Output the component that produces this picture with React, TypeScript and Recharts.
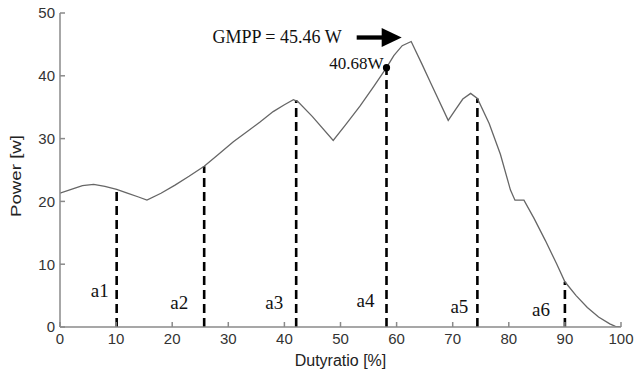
import { ComposedChart, Line, XAxis, YAxis, ReferenceLine, ReferenceDot } from "recharts";

// P-D curve
const duty = [
  0, 2, 4, 6, 8, 10.1, 12, 14, 15.5, 18, 20.5, 23, 25.7, 28, 30.9, 33.5, 35.6, 38, 40,
  41.6, 42.4, 45, 48.7, 51, 53.5, 56, 58.2, 59.5, 61, 62.6, 64.5, 66.1, 69.2, 70.5, 71.8,
  73.2, 74.4, 76.5, 78.5, 80.3, 81.1, 82.7, 84.5, 86.5, 88.5, 90, 92, 94, 96, 98, 99, 100,
];
const power = [
  21.3, 21.9, 22.5, 22.7, 22.4, 21.9, 21.3, 20.7, 20.2, 21.3, 22.6, 24.0, 25.6, 27.3, 29.5,
  31.2, 32.6, 34.3, 35.4, 36.2, 35.9, 33.5, 29.7, 32.3, 35.2, 38.4, 41.3, 43.2, 44.8, 45.46,
  41.9, 38.8, 32.9, 34.6, 36.3, 37.2, 36.4, 32.4, 27.5, 21.8, 20.2, 20.2, 17.3, 13.8, 10.1,
  7.2, 5.0, 3.1, 1.6, 0.5, 0.1, 0,
];

const markerNames = ["a1", "a2", "a3", "a4", "a5", "a6"];
const markerDuty = [10.1, 25.7, 42.1, 58.2, 74.4, 90];
const markerPower = [21.9, 25.6, 36.1, 41.3, 36.4, 7.2];

const xTicks = [0, 10, 20, 30, 40, 50, 60, 70, 80, 90, 100];
const yTicks = [0, 10, 20, 30, 40, 50];

const gmppDuty = 62.6;
const gmppPower = 45.46;
const gmppText = "GMPP = 45.46 W";
const pointDuty = 58.2;
const pointPower = 41.3;
const pointText = "40.68W";

// where the a-labels sit: gap left of the dashed line, baseline height above the axis (px)
const labelGap = [8, 16, 13, 12, 9, 15];
const labelLift = [30, 18, 18, 20, 14, 11];

const data = duty.map((d, i) => ({ d, p: power[i] }));

const SERIF = "'Liberation Serif', 'Times New Roman', serif";
const SANS = "'Liberation Sans', Arial, sans-serif";
const AXIS = "#8a8a8a";
const tickStyle = { fontSize: 15, fill: "#333", fontFamily: SANS };

const blank = () => "";

export default function App() {
  return (
    <div style={{ position: "absolute", left: 0, top: 0, background: "#fff" }}>
      <ComposedChart width={634} height={375} data={data} margin={{ top: 13, right: 13, bottom: 18, left: 0 }}>
        <XAxis
          xAxisId="b"
          dataKey="d"
          type="number"
          domain={[0, 100]}
          ticks={xTicks}
          allowDataOverflow
          height={30}
          tickSize={-5}
          tickMargin={11}
          stroke={AXIS}
          strokeWidth={1.5}
          tick={tickStyle}
          label={(props: any) => {
            const vb = props.viewBox;
            return (
              <text x={vb.x + vb.width / 2} y={vb.y + 39} textAnchor="middle" fontSize={16} fontFamily={SANS} fill="#222">
                Dutyratio [%]
              </text>
            );
          }}
        />
        <XAxis
          xAxisId="t"
          orientation="top"
          type="number"
          domain={[0, 100]}
          ticks={xTicks}
          allowDataOverflow
          height={0}
          tickSize={-5}
          tickFormatter={blank}
          stroke={AXIS}
          strokeWidth={1.5}
        />
        <YAxis
          yAxisId="l"
          type="number"
          domain={[0, 50]}
          ticks={yTicks}
          allowDataOverflow
          width={60}
          tickSize={-5}
          tickMargin={10}
          stroke={AXIS}
          strokeWidth={1.5}
          tick={tickStyle}
          label={(props: any) => {
            const vb = props.viewBox;
            const cy = vb.y + vb.height / 2 + 6;
            return (
              <text
                x={21}
                y={cy}
                transform={`rotate(-90 21 ${cy})`}
                textAnchor="middle"
                fontSize={15}
                fontFamily={SANS}
                fill="#222"
                textLength={82}
                lengthAdjust="spacingAndGlyphs"
              >
                Power [w]
              </text>
            );
          }}
        />
        <YAxis
          yAxisId="r"
          orientation="right"
          type="number"
          domain={[0, 50]}
          ticks={yTicks}
          allowDataOverflow
          width={0}
          tickSize={-5}
          tickFormatter={blank}
          stroke={AXIS}
          strokeWidth={1.5}
        />

        {markerNames.map((name, i) => (
          <ReferenceLine
            key={name}
            xAxisId="b"
            yAxisId="l"
            segment={[
              { x: markerDuty[i], y: 0 },
              { x: markerDuty[i], y: markerPower[i] },
            ]}
            stroke="#000"
            strokeWidth={2.6}
            strokeDasharray="9 5"
            label={(props: any) => {
              const vb = props.viewBox;
              return (
                <text
                  x={vb.x - labelGap[i]}
                  y={vb.y + vb.height - labelLift[i]}
                  textAnchor="end"
                  fontSize={19}
                  fontFamily={SERIF}
                  fill="#111"
                >
                  {name}
                </text>
              );
            }}
          />
        ))}

        <Line
          xAxisId="b"
          yAxisId="l"
          type="linear"
          dataKey="p"
          stroke="#666"
          strokeWidth={1.3}
          dot={false}
          activeDot={false}
          isAnimationActive={false}
        />

        <ReferenceDot
          xAxisId="b"
          yAxisId="l"
          x={pointDuty}
          y={pointPower}
          r={3.6}
          fill="#000"
          stroke="none"
          label={(props: any) => {
            const vb = props.viewBox;
            const cx = vb.x + vb.width / 2;
            const cy = vb.y + vb.height / 2;
            return (
              <text x={cx - 3} y={cy + 1.5} textAnchor="end" fontSize={17} fontFamily={SERIF} fill="#111">
                {pointText}
              </text>
            );
          }}
        />
        <ReferenceDot
          xAxisId="b"
          yAxisId="l"
          x={gmppDuty}
          y={gmppPower}
          r={1}
          fill="none"
          stroke="none"
          label={(props: any) => {
            const vb = props.viewBox;
            const cx = vb.x + vb.width / 2;
            const cy = vb.y + vb.height / 2;
            const tipX = cx - 9.5;
            const ay = cy - 4;
            return (
              <g>
                <text x={cx - 69.5} y={cy + 1.5} textAnchor="end" fontSize={18} fontFamily={SERIF} fill="#111">
                  {gmppText}
                </text>
                <line x1={cx - 54.5} y1={ay} x2={tipX - 18} y2={ay} stroke="#000" strokeWidth={4.3} />
                <polygon points={`${tipX},${ay} ${tipX - 20},${ay - 9.5} ${tipX - 20},${ay + 9.5}`} fill="#000" />
              </g>
            );
          }}
        />
      </ComposedChart>
    </div>
  );
}
